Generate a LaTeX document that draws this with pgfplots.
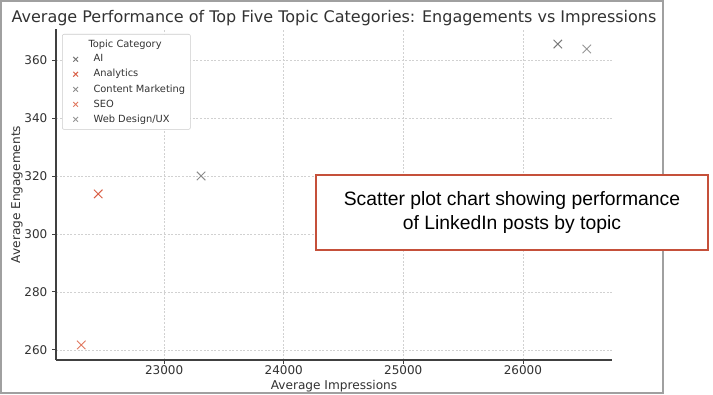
\documentclass[border=0pt]{standalone}
\usepackage{pgfplots}
\pgfplotsset{compat=1.18}
\usepackage{fontspec}
\setmainfont{DejaVu Sans}
\newfontfamily\arial{Liberation Sans}
\definecolor{myred}{RGB}{217,95,70}
\definecolor{myred2}{RGB}{225,120,95}
\definecolor{mygray}{RGB}{120,120,120}
\definecolor{mygray2}{RGB}{140,140,140}
\definecolor{mygray3}{RGB}{150,150,150}
\definecolor{framegray}{RGB}{160,160,160}
\definecolor{boxred}{RGB}{197,80,58}
\definecolor{txt}{RGB}{50,50,50}
\begin{document}
\begin{tikzpicture}
\useasboundingbox (0,0) rectangle (534.75pt,296.25pt);
\fill[white] (0,0) rectangle (534.75pt,296.25pt);
\draw[framegray, line width=1.6pt] (0.8pt,1.2pt) rectangle (497.5pt,295.5pt);
\begin{axis}[
  at={(42pt,26.25pt)}, anchor=south west,
  scale only axis, width=417pt, height=248.25pt,
  xmin=22096, xmax=26745, ymin=256.5, ymax=370.7,
  axis lines*=left,
  axis line style={black!75, line width=0.8pt},
  xtick={23000,24000,25000,26000},
  ytick={260,280,300,320,340,360},
  scaled x ticks=false, scaled y ticks=false,
  tick align=outside, major tick length=3pt,
  tick style={black!75, line width=0.6pt},
  xtick pos=bottom, ytick pos=left,
  /pgf/number format/assume math mode=true,
  /pgf/number format/set thousands separator={},
  ticklabel style={font=\fontsize{9}{10}\selectfont, text=txt},
  xticklabel style={yshift=2pt},
  grid=major,
  major grid style={black!18, dash pattern=on 1.5pt off 1.2pt, line width=0.5pt},
  xlabel={Average Impressions}, ylabel={Average Engagements},
  label style={font=\fontsize{9.1}{10}\selectfont, text=txt},
  xlabel style={at={(axis description cs:0.5,0)}, anchor=center, yshift=-19.5pt},
  ylabel style={at={(axis description cs:0,0.5)}, anchor=center, yshift=29.25pt},
  title={Average Performance of Top Five Topic Categories: Engagements vs Impressions},
  title style={at={(axis description cs:0.5,1)}, anchor=center, yshift=2.25pt, font=\fontsize{12}{13}\selectfont, text=txt},
  legend style={at={(0,1)}, anchor=north west, xshift=4.5pt, yshift=-3.75pt,
    draw=black!20, rounded corners=1.5pt, fill=white,
    font=\fontsize{7.4}{8}\selectfont, text=txt, row sep=0.2pt,
    inner sep=2pt},
  legend cell align=left,
  legend image code/.code={\path (0cm,0cm) (0.66cm,0cm); \draw[#1, mark size=2.5pt, line width=0.7pt] plot coordinates {(0.27cm,0cm)};},
]
\addlegendimage{empty legend}
\addlegendentry{\hspace{-3.75pt}Topic Category}
\addplot[only marks, mark=x, mark size=4.5pt, line width=0.7pt, draw=mygray] coordinates {(26292,365.5)};
\addlegendentry{AI}
\addplot[only marks, mark=x, mark size=4.5pt, line width=0.7pt, draw=myred] coordinates {(22449,313.8)};
\addlegendentry{Analytics}
\addplot[only marks, mark=x, mark size=4.5pt, line width=0.7pt, draw=mygray2] coordinates {(23309,320.0)};
\addlegendentry{Content Marketing}
\addplot[only marks, mark=x, mark size=4.5pt, line width=0.7pt, draw=myred2] coordinates {(22307,261.7)};
\addlegendentry{SEO}
\addplot[only marks, mark=x, mark size=4.5pt, line width=0.7pt, draw=mygray3] coordinates {(26534,363.8)};
\addlegendentry{Web Design/UX}
\end{axis}
\node[draw=boxred, line width=1.5pt, fill=white, minimum width=294pt, minimum height=56.25pt,
  align=center, font=\arial\fontsize{14.5}{18}\selectfont] at (384pt,136.5pt)
  {Scatter plot chart showing performance\\of LinkedIn posts by topic};
\end{tikzpicture}
\end{document}
